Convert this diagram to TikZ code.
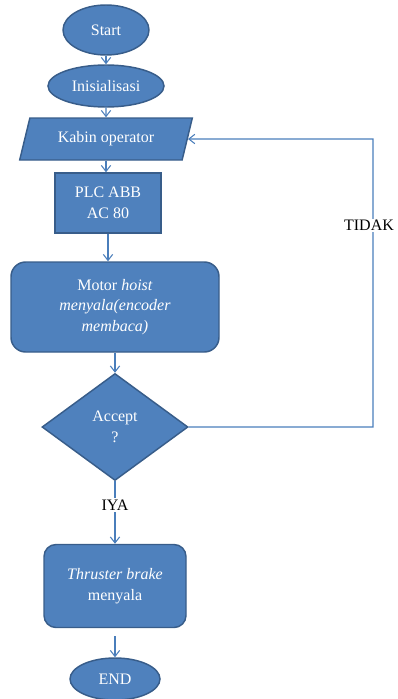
\documentclass[tikz,border=0pt]{standalone}
\usepackage{fontspec}
\setmainfont{Liberation Serif}
\usetikzlibrary{shapes.geometric, arrows.meta}

\definecolor{boxblue}{HTML}{4F81BD}
\definecolor{boxedge}{HTML}{385D8A}
\definecolor{lineblue}{HTML}{4A7EBB}

\begin{document}
\begin{tikzpicture}[x=0.75pt, y=-0.75pt, >={Straight Barb[length=4.5pt, width=7pt]},
    every node/.style={font=\fontsize{12}{15.5}\selectfont},
    shp/.style={draw=boxedge, line width=1.1pt, fill=boxblue, text=white, align=center, inner sep=0pt},
    term/.style={shp, ellipse},
    io/.style={shp, trapezium, trapezium left angle=66, trapezium right angle=114, trapezium stretches=true},
    proc/.style={shp, rectangle},
    rproc/.style={shp, rectangle, rounded corners=11pt},
    decide/.style={shp, diamond},
    arr/.style={->, draw=lineblue, line width=0.8pt},
    lbl/.style={fill=white, text=black, inner sep=1pt}]

    \useasboundingbox (0,0) rectangle (397,699);

    % ============================================================
    % MAIN FLOW
    % ============================================================
    \node[term, minimum width=64.5pt, minimum height=37.5pt] (start) at (106,30) {Start};
    \node[term, minimum width=87pt, minimum height=31.5pt] (init) at (106,86) {Inisialisasi};
    \node[io, minimum width=130.5pt, minimum height=31.5pt] (kabin) at (106,139) {Kabin operator};
    \node[proc, minimum width=79.5pt, minimum height=45pt] (plc) at (108,203) {PLC ABB\\AC 80};
    \node[rproc, minimum width=156pt, minimum height=67.5pt] (motor) at (115,307)
        {Motor \textit{hoist}\\\textit{menyala(encoder}\\\textit{membaca)}};

    % Decision
    \node[decide, minimum width=109.5pt, minimum height=80.25pt] (accept) at (115,427) {Accept\\?};

    \node[rproc, rounded corners=9pt, minimum width=106.5pt, minimum height=62.25pt] (brake) at (115,586)
        {\textit{Thruster brake}\\menyala};
    \node[term, minimum width=67.5pt, minimum height=31.5pt] (end) at (115,679) {END};

    % ============================================================
    % CONNECTORS
    % ============================================================
    \draw[arr] (start) -- (init);
    \draw[arr] (init) -- (kabin);
    \draw[arr] (kabin.south) -- (kabin.south |- plc.north);
    \draw[arr] (plc.south) -- (plc.south |- motor.north);
    \draw[arr] (motor) -- (accept);
    \draw[arr] (accept) -- node[lbl, pos=0.38] {IYA} (brake);
    \draw[arr, shorten <=6pt] (brake) -- (end);

    % ============================================================
    % LOOP BACK (TIDAK)
    % ============================================================
    \coordinate (loopB) at (373,427);
    \coordinate (loopT) at (373,139);
    \draw[arr] (accept.east) -- (loopB)
        -- node[lbl, pos=0.7, xshift=-3pt] {TIDAK} (loopT)
        -- (kabin.east);

\end{tikzpicture}
\end{document}
